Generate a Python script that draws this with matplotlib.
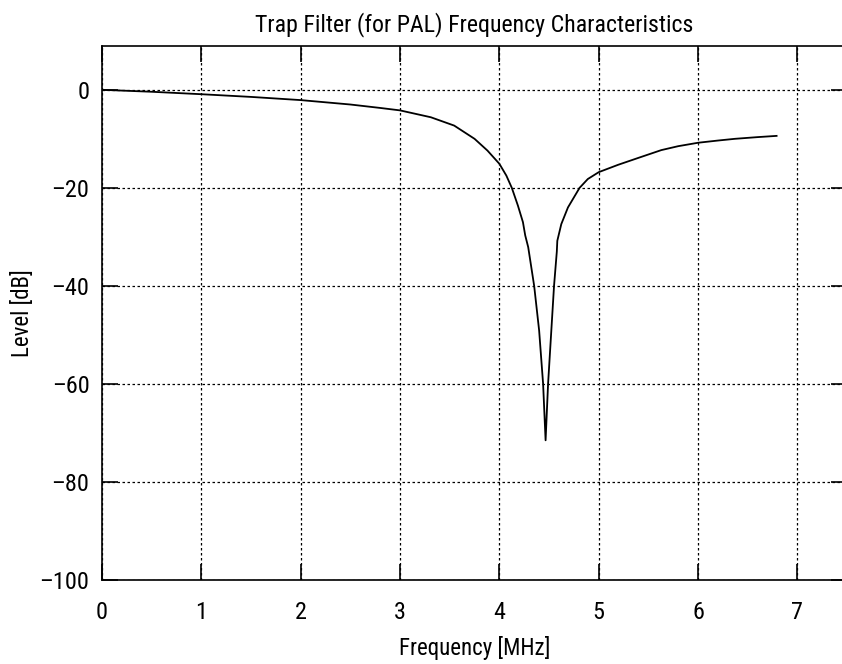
import matplotlib
matplotlib.use("Agg")
import matplotlib.pyplot as plt

plt.rcParams['font.family'] = ['Roboto Condensed', 'Liberation Sans', 'DejaVu Sans']

# frequency response
freq = [0.0, 0.5, 1.0, 1.5, 2.0, 2.5, 2.8, 3.0, 3.31, 3.545, 3.75, 3.88, 4.0,
        4.07, 4.125, 4.186, 4.237, 4.26, 4.29, 4.35, 4.40, 4.44, 4.465,
        4.49, 4.55, 4.578, 4.583, 4.623, 4.69, 4.807, 4.89, 5.0, 5.195,
        5.397, 5.63, 5.8, 6.0, 6.2, 6.37, 6.6, 6.79]
level = [0.0, -0.4, -0.9, -1.45, -2.1, -3.0, -3.7, -4.2, -5.6, -7.3, -10.0, -12.4, -15.1,
         -17.5, -20.0, -23.6, -27.0, -29.7, -32.1, -40.0, -49.1, -60.0, -71.5,
         -60.0, -40.0, -33.0, -30.8, -27.4, -24.0, -20.0, -18.2, -16.8, -15.3,
         -13.9, -12.3, -11.5, -10.8, -10.35, -10.0, -9.65, -9.4]

xticks = [0, 1, 2, 3, 4, 5, 6, 7]
yticks = [0, -20, -40, -60, -80, -100]

fig = plt.figure(figsize=(8.42, 6.64), dpi=100)
ax = fig.add_axes([0.1211, 0.1265, 0.885, 0.8047])

ax.plot(freq, level, color='black', linewidth=1.3)

ax.set_xlim(0, 7.5)
ax.set_ylim(-100, 9)
ax.set_xticks(xticks)
ax.set_yticks(yticks)
ax.set_xticklabels([str(t) for t in xticks])
ax.set_yticklabels([str(t).replace('-', '\u2013') for t in yticks])
ax.tick_params(direction='in', length=11.5, width=1.2, top=True, right=True,
               labelsize=17.5, color='black')
ax.tick_params(axis='x', pad=15)
ax.tick_params(axis='y', pad=9)
ax.grid(True, color='black', linestyle=(0, (2, 2)), linewidth=0.9)
for s in ax.spines.values():
    s.set_linewidth(1.2)

ax.set_title('Trap Filter (for PAL) Frequency Characteristics', fontsize=17.2, pad=10)
ax.set_xlabel('Frequency [MHz]', fontsize=16.5, labelpad=9)
ax.set_ylabel('Level [dB]', fontsize=16.5, labelpad=4)

fig.savefig('out.png', dpi=100)
